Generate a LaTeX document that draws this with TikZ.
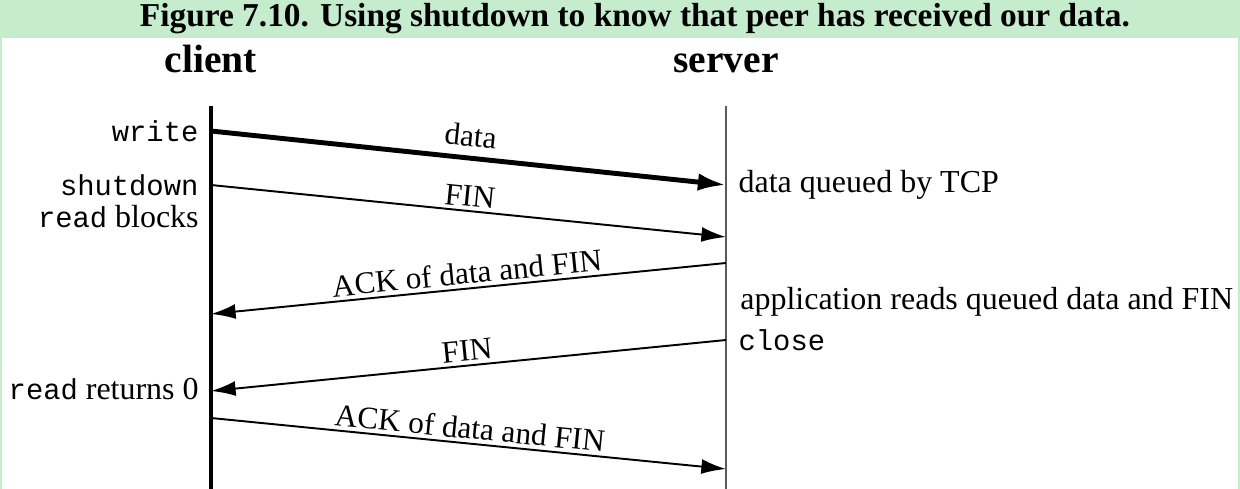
\documentclass[tikz,border=0pt]{standalone}
\usepackage{fontspec}
\setmainfont{Liberation Serif}
\setmonofont{Liberation Mono}
\usetikzlibrary{arrows.meta,positioning}

\definecolor{titlegreen}{RGB}{198,236,206}
\definecolor{lifegrey}{RGB}{90,90,90}

\newcommand{\mono}[1]{{\fontsize{16.4}{20}\ttfamily #1}}

\tikzset{
  msg/.style={line width=1.1pt,-{Latex[length=14pt,width=8.5pt]}},
  bigmsg/.style={line width=2.8pt,-{Latex[length=16pt,width=10pt]}},
  lbl/.style={font=\fontsize{17.8}{20}\selectfont,inner sep=2pt},
  side/.style={font=\fontsize{18.2}{20}\selectfont,inner sep=0pt},
  head/.style={font=\bfseries\fontsize{22.5}{26}\selectfont,inner sep=0pt,anchor=base}
}

\begin{document}
\begin{tikzpicture}[x=0.02cm,y=-0.02cm]
\useasboundingbox (0,0) rectangle (1240,489);
\fill[white] (0,0) rectangle (1240,489);
\fill[titlegreen] (0,0) rectangle (1240,38);
\fill[titlegreen] (0,38) rectangle (2,489);
\fill[titlegreen] (1238,38) rectangle (1240,489);

\node[font=\bfseries\fontsize{19}{22}\selectfont,inner sep=0pt] (title) at (635,19)
  {Figure 7.10. Using shutdown to know that peer has received our data.};

\node[head] (client) at (211,73) {client};
\node[head] (server) at (726,73) {server};

% lifelines
\coordinate (ctop) at (211,106);
\coordinate (cbot) at (211,489);
\coordinate (stop) at (726,106);
\coordinate (sbot) at (726,489);
\draw[line width=2.2pt] (ctop) -- (cbot);
\draw[line width=1pt,lifegrey] (stop) -- (sbot);

\coordinate (c1) at (211,131);
\coordinate (s1) at (726,185);
\coordinate (c2) at (211,185);
\coordinate (s2) at (726,237);
\coordinate (s3) at (726,263);
\coordinate (c3) at (211,314);
\coordinate (s4) at (726,340);
\coordinate (c4) at (211,391);
\coordinate (c5) at (211,418);
\coordinate (s5) at (726,469);

\draw[bigmsg] (c1) -- (s1) node[midway,above=3pt,sloped,lbl] (ldata) {data};
\draw[msg] (c2) -- (s2) node[midway,above,sloped,lbl] (lfin) {FIN};
\draw[msg] (s3) -- (c3) node[midway,above,sloped,lbl] (lack) {ACK of data and FIN};
\draw[msg] (s4) -- (c4) node[midway,above,sloped,lbl] (lfin2) {FIN};
\draw[msg] (c5) -- (s5) node[midway,above,sloped,lbl] (lack2) {ACK of data and FIN};

% client side
\node[side,left=7pt of c1] (write) {\mono{write}};
\node[side,left=7pt of c2] (shutdown) {\mono{shutdown}};
\node[side,anchor=east] (blocks) at (199,217) {\mono{read} blocks};
\node[side,anchor=east] (returns) at (199,389) {\mono{read} returns 0};

% server side
\node[side,right=7pt of s1] (queued) {data queued by TCP};
\node[side,anchor=west] (reads) at (740,302) {application reads queued data and FIN};
\node[side,right=7pt of s4] (close) {\mono{close}};

\end{tikzpicture}
\end{document}
